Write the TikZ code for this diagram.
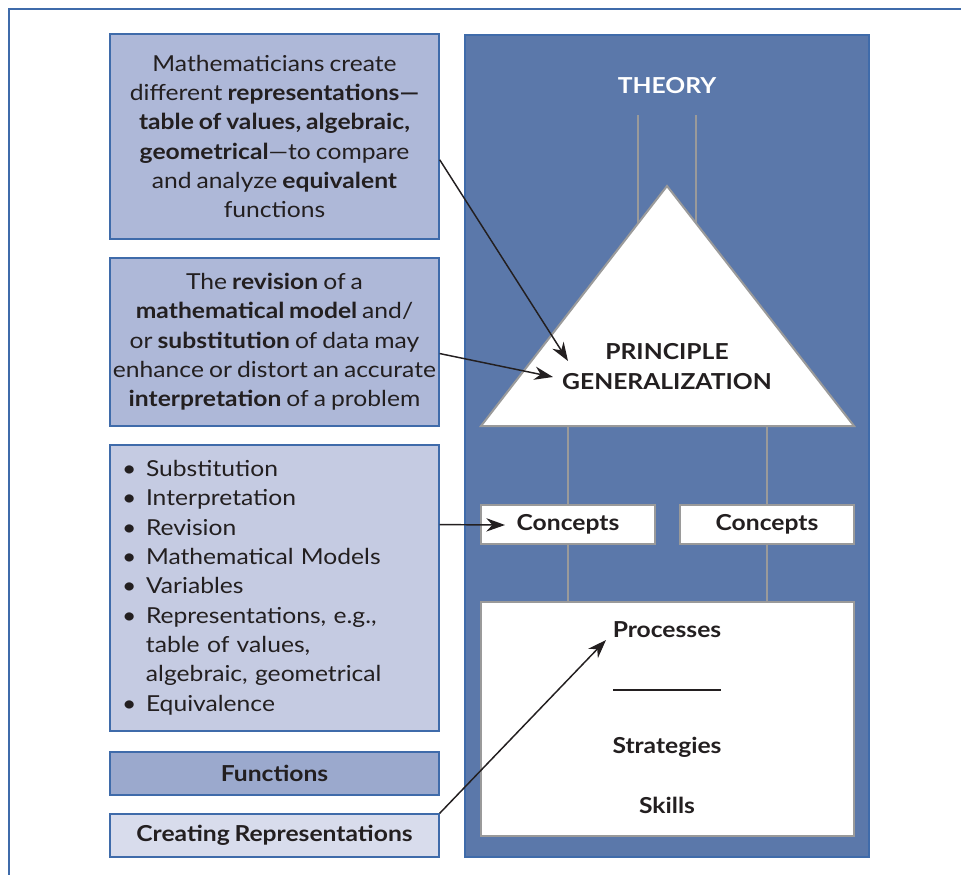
\documentclass[tikz,border=0pt]{standalone}
\usepackage{fontspec}
\setmainfont{Lato}[FakeStretch=1.12, WordSpace=0.8]
\usetikzlibrary{arrows.meta}
\definecolor{framec}{HTML}{3F6BAA}
\definecolor{panelc}{HTML}{5B78AA}
\definecolor{boxa}{HTML}{AEB8D8}
\definecolor{boxb}{HTML}{C5CBE2}
\definecolor{boxf}{HTML}{9BA9CD}
\definecolor{boxc}{HTML}{D8DCEC}
\definecolor{greyc}{HTML}{9A9A9A}
\definecolor{inkc}{HTML}{231F20}
\tikzset{
  txt/.style={font=\fontsize{16.5pt}{22pt}\selectfont, text=inkc},
  leftbox/.style={draw=framec, line width=1pt, minimum width=246.75pt, inner sep=0pt, txt, align=center},
  whitebox/.style={draw=greyc, fill=white, line width=1.5pt, inner sep=0pt},
  greyline/.style={draw=greyc, line width=1.3pt},
  arr/.style={draw=inkc, line width=1.1pt, -{Stealth[length=14pt,width=10pt]}},
  bold/.style={font=\fontsize{16.5pt}{22pt}\selectfont\bfseries, text=inkc, inner sep=0pt}
}
\begin{document}
\begin{tikzpicture}[x=0.75pt,y=-0.75pt]
\useasboundingbox (0,0) rectangle (961,875);
% outer frame
\draw[framec, line width=1.2pt] (961,9) -- (9,9) -- (9,875);
% right panel
\node[draw=framec, fill=panelc, line width=1pt, minimum width=303pt, minimum height=616.5pt, inner sep=0pt] (panel) at (667,446) {};
\node[font=\fontsize{16.5pt}{22pt}\selectfont\bfseries, text=white, inner sep=0pt] (theory) at (667,86) {THEORY};
% top grey lines
\coordinate (tl1) at (638,115);
\coordinate (tl2) at (696,115);
\coordinate (tb1) at (638,226);
\coordinate (tb2) at (696,226);
\draw[greyline] (tl1) -- (tb1);
\draw[greyline] (tl2) -- (tb2);
% triangle
\coordinate (apex) at (667,186);
\coordinate (bl) at (481,426);
\coordinate (br) at (854,426);
\draw[draw=greyc, fill=white, line width=1.5pt, line join=miter] (bl) -- (apex) -- (br) -- cycle;
\node[bold, align=center] (pg) at (667,366.5) {PRINCIPLE\\GENERALIZATION};
% concepts
\node[whitebox, minimum width=130.5pt, minimum height=29.25pt] (cl) at (568,524.5) {};
\node[whitebox, minimum width=130.5pt, minimum height=29.25pt] (cr) at (767,524.5) {};
\node[bold] at (cl.center) {Concepts};
\node[bold] at (cr.center) {Concepts};
% bottom box
\node[whitebox, minimum width=279.75pt, minimum height=175.5pt] (bot) at (667.5,719) {};
\draw[greyline] (568,427) -- (cl.north);
\draw[greyline] (767,427) -- (cr.north);
\draw[greyline] (cl.south) -- (568,602);
\draw[greyline] (cr.south) -- (767,602);
\node[bold] (proc) at (667,630) {Processes};
\node[fill=inkc, minimum width=81pt, minimum height=1.5pt, inner sep=0pt] (rule) at (667,690) {};
\node[bold] (strat) at (667,747) {Strategies};
\node[bold] (skill) at (667,805) {Skills};
% left boxes
\node[leftbox, fill=boxa, minimum height=153.75pt] (b1) at (274.5,136.5)
 {Mathematicians create\\different \textbf{representations—}\\\textbf{table of values, algebraic,}\\\textbf{geometrical}—to compare\\and analyze \textbf{equivalent}\\functions};
\node[leftbox, fill=boxa, minimum height=126pt] (b2) at (274.5,342)
 {The \textbf{revision} of a\\\textbf{mathematical model} and/\\or \textbf{substitution} of data may\\enhance or distort an accurate\\\textbf{interpretation} of a problem};
\node[leftbox, fill=boxb, minimum height=214.5pt, text width=228.75pt, inner xsep=9pt, align=left] (b3) at (274.5,588)
 {\begin{tabular}{@{}p{18pt}@{}l@{}}
 \textbullet & Substitution\\
 \textbullet & Interpretation\\
 \textbullet & Revision\\
 \textbullet & Mathematical Models\\
 \textbullet & Variables\\
 \textbullet & Representations, e.g.,\\
  & table of values,\\
  & algebraic, geometrical\\
 \textbullet & Equivalence
 \end{tabular}};
\node[leftbox, fill=boxf, minimum height=32.25pt, font=\fontsize{16.5pt}{22pt}\selectfont\bfseries] (fn) at (274.5,773.5) {Functions};
\node[leftbox, fill=boxc, minimum height=32.25pt, font=\fontsize{16.5pt}{22pt}\selectfont\bfseries] (cr2) at (274.5,835.5) {Creating Representations};
% arrow targets
\coordinate (t1) at (568,361);
\coordinate (t2) at (553,377);
\coordinate (t3) at (505,525);
\coordinate (t4) at (606,640);
\draw[arr] (b1.-8.8) -- (t1);
\draw[arr] (b2.-4.5) -- (t2);
\draw[arr] (b3.21) -- (t3);
\draw[arr] (cr2.north east) -- (t4);
\end{tikzpicture}
\end{document}
